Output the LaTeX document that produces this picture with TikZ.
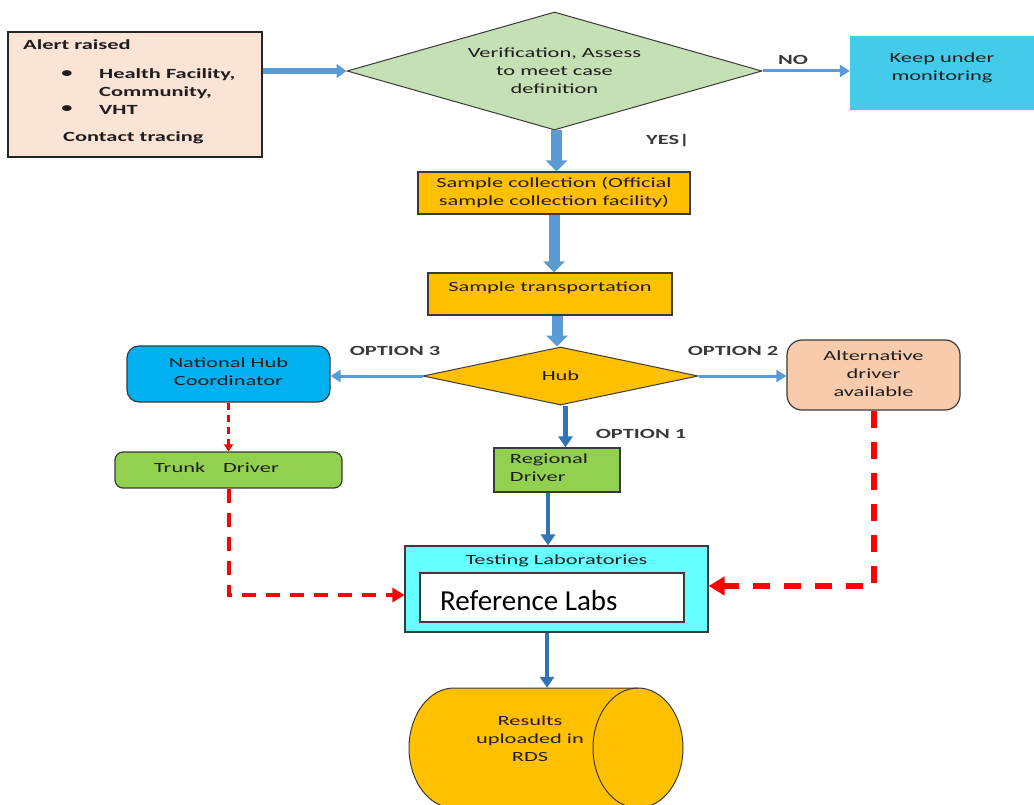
\documentclass[tikz,border=0pt]{standalone}
\usepackage{fontspec}
\setmainfont{Carlito}[FakeStretch=1.6]
\newfontfamily\plainfont{Carlito}
\usetikzlibrary{shapes.geometric,arrows.meta}

\definecolor{alertc}{HTML}{FBE3D6}
\definecolor{verifc}{HTML}{C5E0B4}
\definecolor{keepc}{HTML}{45CBEA}
\definecolor{orangec}{HTML}{FFC000}
\definecolor{natc}{HTML}{00B0F0}
\definecolor{altc}{HTML}{F8CBAD}
\definecolor{greenc}{HTML}{92D050}
\definecolor{labc}{HTML}{66FFFF}
\definecolor{flowc}{HTML}{5B9BD5}
\definecolor{darkflowc}{HTML}{2E75B6}
\definecolor{edgec}{HTML}{3A3A3A}
\definecolor{inkc}{HTML}{1E1E1E}
\definecolor{redc}{HTML}{FF0000}

\newcommand{\boxlines}[1]{\begin{tabular}{@{}c@{}}#1\end{tabular}}
\newcommand{\leftlines}[1]{\begin{tabular}{@{}l@{}}#1\end{tabular}}

\begin{document}
\begin{tikzpicture}[x=1pt,y=-1pt,
  font=\fontsize{14}{18}\selectfont, text=inkc,
  stepbox/.style={draw=edgec, line width=1.2pt, inner sep=0pt, align=center},
  roundbox/.style={stepbox, rounded corners=12pt},
  txt/.style={inner sep=0pt},
  lbl/.style={inner sep=0pt, font=\fontsize{14}{18}\selectfont\bfseries, text=edgec},
  fatflow/.style={line width=11pt, draw=flowc, -{Triangle[width=21pt,length=11pt]}},
  flatflow/.style={line width=6pt, draw=flowc, -{Triangle[width=14pt,length=10pt]}},
  thinflow/.style={line width=3pt, draw=flowc, -{Triangle[width=12pt,length=10pt]}},
  darkflow/.style={line width=4.5pt, draw=darkflowc, -{Triangle[width=14pt,length=11pt]}},
  redsmall/.style={line width=3pt, draw=redc, dash pattern=on 7pt off 5pt, -{Triangle[width=9pt,length=7pt]}},
  redmid/.style={line width=4pt, draw=redc, dash pattern=on 14pt off 10pt, -{Triangle[width=14pt,length=12pt]}},
  redbig/.style={line width=6pt, draw=redc, dash pattern=on 17pt off 14pt, -{Triangle[width=18pt,length=16pt]}}
]
\useasboundingbox (0,0) rectangle (1034,805);

% alert box with its list
\node[stepbox, line width=1.8pt, draw=black!85, fill=alertc, minimum width=254pt, minimum height=125pt] (alert) at (135,94.5) {};
\begin{scope}[every node/.style={txt, font=\fontsize{14}{18}\selectfont\bfseries}]
\node[anchor=west] (a1) at (23,45) {Alert raised};
\node (b1) at (67,74) {•};
\node[anchor=west] (a2) at (99,75) {Health Facility,};
\node[anchor=west] (a3) at (99,93) {Community,};
\node (b2) at (67,109) {•};
\node[anchor=west] (a4) at (99,110) {VHT};
\node[anchor=west] (a5) at (63,138) {Contact tracing};
\end{scope}

% decision
\node[diamond, draw=edgec, line width=1pt, fill=verifc, minimum width=415pt, minimum height=118pt, inner sep=0pt, aspect=3.5, align=center] (ver) at (554.5,71) {Verification, Assess\\to meet case\\definition};
\node[fill=keepc, minimum width=184pt, minimum height=74pt, inner sep=0pt,
  label={[txt, yshift=5pt]center:\boxlines{Keep under\\monitoring}}] (keep) at (942,73) {};

% sample handling
\node[stepbox, fill=orangec, minimum width=272pt, minimum height=42pt] (coll) at (554,193) {\boxlines{Sample collection (Official\\sample collection facility)}};
\node[stepbox, fill=orangec, minimum width=244pt, minimum height=42pt,
  label={[txt, yshift=6pt]center:Sample transportation}] (trans) at (550,294) {};
\node[diamond, draw=edgec, line width=1pt, fill=orangec, minimum width=275pt, minimum height=58pt, inner sep=0pt, aspect=4.7] (hub) at (560.5,376) {Hub};

% drivers
\node[roundbox, fill=natc, minimum width=203pt, minimum height=56pt,
  label={[txt, yshift=1pt]center:\boxlines{National Hub\\Coordinator}}] (nat) at (228.5,374) {};
\node[roundbox, rounded corners=15pt, fill=altc, minimum width=173pt, minimum height=70pt,
  label={[txt]center:\boxlines{Alternative\\driver\\available}}] (alt) at (873.5,375) {};
\node[roundbox, rounded corners=8pt, fill=greenc, minimum width=227pt, minimum height=36pt,
  label={[txt, yshift=2pt, xshift=-12pt]center:Trunk\hspace{18pt}Driver}] (trunk) at (228.5,470) {};
\node[stepbox, fill=greenc, minimum width=126pt, minimum height=44pt,
  label={[txt, xshift=-8pt, yshift=1pt]center:\leftlines{Regional\\Driver}}] (reg) at (557,470) {};

% laboratories
\node[stepbox, fill=labc, minimum width=303pt, minimum height=86pt,
  label={[txt, anchor=center, yshift=-15pt]north:Testing Laboratories}] (lab) at (556.5,589) {};
\node[stepbox, fill=white, minimum width=264pt, minimum height=49pt] (ref) at (552,597.5) {};
\node[txt, anchor=west, font=\plainfont\fontsize{29}{32}\selectfont, text=black] (reft) at (440,601) {Reference Labs};

% results store: horizontal drum
\draw[draw=edgec, line width=1pt, fill=orangec]
  (454,688) -- (638,688)
  arc[start angle=-90, end angle=90, x radius=45, y radius=60]
  -- (454,808)
  arc[start angle=90, end angle=270, x radius=45, y radius=60] -- cycle;
\draw[draw=edgec, line width=1pt]
  (638,688) arc[start angle=-90, end angle=-270, x radius=45, y radius=60];
\node[minimum width=274pt, minimum height=120pt, inner sep=0pt,
  label={[txt, yshift=8pt, xshift=-16pt]center:\boxlines{Results\\uploaded in\\RDS}}] (res) at (546,748) {};

% branch labels
\node[lbl] (no) at (793,60) {NO};
\node[lbl] (yes) at (668,141) {YES|};
\node[lbl] (op3) at (395,351) {OPTION 3};
\node[lbl] (op2) at (733,351) {OPTION 2};
\node[lbl] (op1) at (641,434) {OPTION 1};

% main flow
\draw[flatflow] (ver.west -| alert.east) -- (ver.west);
\draw[thinflow] (ver.east) -- (ver.east -| keep.west);
\draw[fatflow] ([xshift=2pt]ver.south) -- ([xshift=2pt]ver.south |- coll.north);
\draw[fatflow] (coll.south) -- (coll.south |- trans.north);
\draw[fatflow] ([xshift=-3.5pt]hub.north |- trans.south) -- ([xshift=-3.5pt]hub.north);
\draw[thinflow] (hub.west) -- (hub.west -| nat.east);
\draw[thinflow] (hub.east) -- (hub.east -| alt.west);
\draw[darkflow] ([xshift=5pt]hub.south) -- ([xshift=5pt]hub.south |- reg.north);
\draw[darkflow] ([xshift=-9pt]reg.south) -- ([xshift=-9pt]reg.south |- lab.north);
\draw[darkflow] ([xshift=-9.5pt]lab.south) -- ([xshift=-9.5pt]lab.south |- res.north);

% alternative routes
\draw[redsmall] (nat.south) -- (nat.south |- trunk.north);
\draw[redmid] (trunk.south) |- ([yshift=-6pt]lab.west);
\draw[redbig] (alt.south) |- ([yshift=3pt]lab.east);
\end{tikzpicture}
\end{document}
